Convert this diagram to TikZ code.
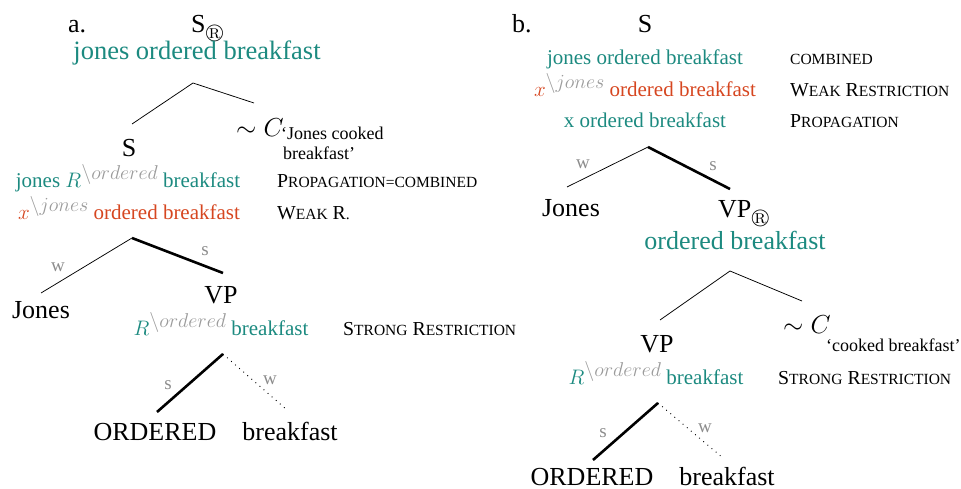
\RequirePackage{fix-cm}
\documentclass[tikz,border=0pt]{standalone}
\usepackage{amssymb}
\usepackage{fontspec}
\setmainfont{Liberation Serif}

\definecolor{tealtxt}{RGB}{28,138,128}
\definecolor{redtxt}{RGB}{214,70,32}
\definecolor{supgray}{RGB}{155,155,155}
\definecolor{edgegray}{RGB}{140,140,140}

% font size in pt, tight leading
\newcommand{\fsz}[1]{\fontsize{#1}{#1}\selectfont}
% gray restriction superscript, e.g. R^{\ordered}
\newcommand{\supx}[1]{\raisebox{8pt}{\fsz{20}\color{supgray}$\backslash #1$}}
% hand-made small capitals: large initial, smaller rest
\newcommand{\fsc}[2]{{\fsz{19.8}#1\fsz{15.5}#2}}
% lowered circled R after a category
\newcommand{\regmark}{\raisebox{-6pt}{\fsz{19}$\circledR$}}

\begin{document}
\begin{tikzpicture}[x=1pt,y=-1pt,
  big/.style={font=\fsz{26}, inner sep=0, anchor=base},
  ann/.style={font=\fsz{21}, inner sep=0, anchor=base},
  tagtxt/.style={font=\fsz{19.8}, inner sep=0, anchor=base west},
  subtxt/.style={font=\fsz{18}, inner sep=0, anchor=base west},
  branch/.style={line width=0.75pt},
  strong/.style={line width=2.6pt},
  weakdot/.style={line width=0.9pt, dash pattern=on 0.9pt off 4.5pt},
  wslab/.style={font=\fsz{19}, text=edgegray, inner sep=0}
]
\useasboundingbox (0,0) rectangle (961,489);

% ---------------- tree a ----------------
\node[big, anchor=base west] (alabel) at (68,33) {a.};
\node[big, anchor=base west] (aS) at (191,33) {S\regmark};
\node[big, font=\fsz{26.5}, text=tealtxt] (aSsem) at (197,60) {jones ordered breakfast};

\coordinate (aTop) at (193,83);
\coordinate (aTopL) at (132,124);
\coordinate (aTopR) at (254,103);
\draw[branch] (aTopL) -- (aTop) -- (aTopR);

\node[big, anchor=base west] (aC) at (236,137) {$\sim C$};
\node[subtxt] (aCsub1) at (281,140) {‘Jones cooked};
\node[subtxt] (aCsub2) at (283,160) {breakfast’};

\node[big] (aS2) at (129,157) {S};
\node[ann, text=tealtxt] (aS2sem) at (128,188) {jones $R$\supx{ordered} breakfast};
\node[ann, text=redtxt] (aS2weak) at (129,219) {$x$\supx{jones} ordered breakfast};
\node[tagtxt] (aS2prop) at (277,188) {\fsc{P}{ROPAGATION=COMBINED}};
\node[tagtxt] (aS2wr) at (277,219) {\fsc{W}{EAK} \fsc{R}{.}};

\coordinate (aMid) at (132,238);
\coordinate (aMidL) at (41,293);
\coordinate (aMidR) at (223,273);
\draw[branch] (aMid) -- (aMidL);
\draw[strong] (aMid) -- (aMidR);
\node[wslab] (aW1) at (58,267) {w};
\node[wslab] (aS1) at (205,251) {s};

\node[big] (aJones) at (41,318) {Jones};
\node[big] (aVP) at (221,303) {VP};
\node[ann, text=tealtxt] (aVPsem) at (221,335) {$R$\supx{ordered} breakfast};
\node[tagtxt] (aVPtag) at (343,335) {\fsc{S}{TRONG} \fsc{R}{ESTRICTION}};

\coordinate (aLow) at (223,354);
\coordinate (aLowL) at (157,412);
\coordinate (aLowR) at (287,410);
\draw[strong] (aLow) -- (aLowL);
\draw[weakdot] (aLow) -- (aLowR);
\node[wslab] (aS3) at (168,385) {s};
\node[wslab] (aW2) at (270,380) {w};

\node[big] (aOrd) at (155,440) {ORDERED};
\node[big] (aBrk) at (290,440) {breakfast};

% ---------------- tree b ----------------
\node[big, anchor=base west] (blabel) at (512,33) {b.};
\node[big] (bS) at (645,33) {S};
\node[ann, text=tealtxt] (bSsem) at (645,65) {jones ordered breakfast};
\node[ann, text=redtxt] (bSweak) at (645,97) {$x$\supx{jones} ordered breakfast};
\node[ann, text=tealtxt] (bSprop) at (645,128) {x ordered breakfast};
\node[tagtxt] (bTag1) at (790,65) {\fsc{}{COMBINED}};
\node[tagtxt] (bTag2) at (790,97) {\fsc{W}{EAK} \fsc{R}{ESTRICTION}};
\node[tagtxt] (bTag3) at (790,128) {\fsc{P}{ROPAGATION}};

\coordinate (bTop) at (648,147);
\coordinate (bTopL) at (567,187);
\coordinate (bTopR) at (730,189);
\draw[branch] (bTop) -- (bTopL);
\draw[strong] (bTop) -- (bTopR);
\node[wslab] (bW1) at (583,164) {w};
\node[wslab] (bS1) at (713,166) {s};

\node[big] (bJones) at (571,217) {Jones};
\node[big, anchor=base west] (bVP) at (718,218) {VP\regmark};
\node[big, text=tealtxt] (bVPsem) at (735,250) {ordered breakfast};

\coordinate (bMid) at (730,271);
\coordinate (bMidL) at (660,320);
\coordinate (bMidR) at (802,301);
\draw[branch] (bMidL) -- (bMid) -- (bMidR);

\node[big, anchor=base west] (bC) at (783,333) {$\sim C$};
\node[subtxt] (bCsub) at (826,351) {‘cooked breakfast’};

\node[big] (bVP2) at (657,352) {VP};
\node[ann, text=tealtxt] (bVP2sem) at (656,384) {$R$\supx{ordered} breakfast};
\node[tagtxt] (bVP2tag) at (778,384) {\fsc{S}{TRONG} \fsc{R}{ESTRICTION}};

\coordinate (bLow) at (658,403);
\coordinate (bLowL) at (593,460);
\coordinate (bLowR) at (723,458);
\draw[strong] (bLow) -- (bLowL);
\draw[weakdot] (bLow) -- (bLowR);
\node[wslab] (bS2) at (603,433) {s};
\node[wslab] (bW2) at (705,428) {w};

\node[big] (bOrd) at (592,485) {ORDERED};
\node[big] (bBrk) at (727,485) {breakfast};
\end{tikzpicture}
\end{document}
